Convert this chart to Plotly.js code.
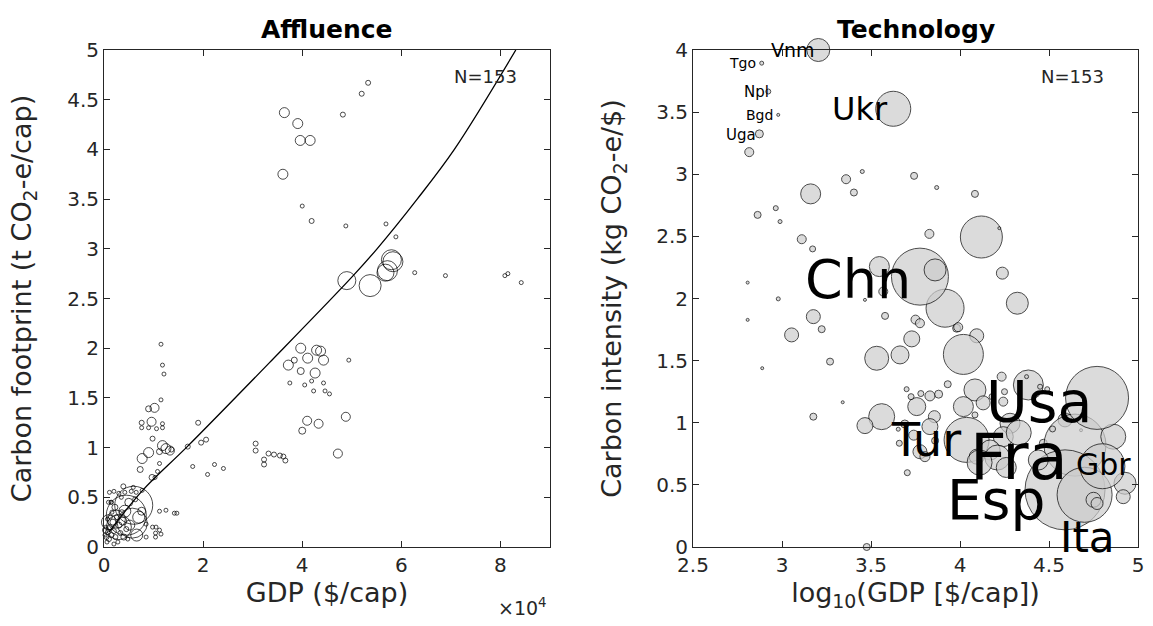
<!DOCTYPE html>
<html><head><meta charset="utf-8">
<script src="https://cdn.plot.ly/plotly-3.0.1.min.js"></script>
<style>html,body{margin:0;padding:0;background:#fff}#chart{width:1153px;height:626px}</style>
</head><body><div id="chart"></div>
<script>
// ---------- Affluence panel (GDP $/cap vs carbon footprint t CO2-e/cap) ----------
const affGdp = [53300,52000,48200,36400,39100,39600,41600,36100,40000,41900,48800,56900,58900,
  58000,57200,58300,56800,49000,53700,62700,68900,80900,81500,84200,
  39700,42900,43700,41100,44300,38400,37200,39700,42600,49400,37500,40500,41900,44300,42300,44600,45500,
  48800,41000,43300,40000,47200,33200,32300,32300,34300,35500,36200,36600,
  7700,9000,7300,9700,11500,11800,12100,11500,10200,9000,9600,7600,7600,9000,10600,11800,11800,9800,
  11800,12500,13300,11200,13600,16900,19000,19600,20600,17900,20900,22300,24100,30600,30600,11200,10800,10300,3900,
  1100,2000,3000,4200,5500,6500,7700,1400,
  6000,4500,5700,3000,7000,11200,12500,14200,14700,8500,9800,10500,8500,10400,11200,11500,10400,
  500,800,1000,1200,1500,1800,2000,2300,2600,3000,3300,3600,400,600,1300,2800,4000,4500,5000,2200,1600,700,3800,4800,200,900,5200,6600,2000,3500,1500,6300,7600,1000,2500,300,4200,5900];
const affFoot = [4.67,4.56,4.35,4.37,4.26,4.09,4.09,3.75,3.43,3.28,3.23,3.25,3.12,
  2.89,2.78,2.87,2.76,2.68,2.63,2.76,2.73,2.73,2.75,2.66,
  2.00,1.98,1.97,1.90,1.88,1.88,1.83,1.77,1.75,1.88,1.65,1.63,1.67,1.65,1.57,1.57,1.54,
  1.31,1.27,1.24,1.17,0.94,0.94,0.88,0.83,0.93,0.92,0.91,0.87,
  0.89,0.95,0.78,0.70,2.04,1.83,1.74,1.48,1.40,1.39,1.26,1.25,1.20,1.20,1.19,1.24,1.20,1.09,
  1.02,0.99,0.97,0.96,0.98,1.01,1.25,1.05,1.08,0.81,0.73,0.83,0.79,1.04,0.97,0.84,0.76,0.70,0.61,
  0.55,0.56,0.54,0.55,0.56,0.55,0.57,0.45,
  0.42,0.32,0.24,0.20,0.30,0.36,0.37,0.34,0.34,0.23,0.20,0.20,0.10,0.14,0.17,0.13,0.10,
  0.10,0.15,0.08,0.20,0.12,0.25,0.16,0.10,0.30,0.22,0.14,0.35,0.20,0.05,0.30,0.05,0.10,0.18,0.45,0.40,0.35,0.28,0.26,0.08,0.12,0.45,0.22,0.12,0.03,0.50,0.45,0.48,0.36,0.25,0.28,0.17,0.36,0.60];
const affPop = [5,5,5,10,10,10,10,10,4,5,4,4,4,
  20,20,20,17,18,22,4,4,4,4,4,
  10,10,10,10,10,6,10,7,10,4,4,4,4,4,4,4,4,
  9,9,9,7,9,5,5,5,5,5,5,5,
  10,10,6,6,4,4,4,4,9,6,9,5,4,4,4,4,4,5,
  10,10,9,6,5,5,5,5,5,4,4,4,4,5,5,4,4,4,5,
  4,4,4,4,4,4,4,4,
  38,40,30,25,12,4,4,4,4,4,4,4,4,4,4,4,4,
  5,5,5,5,5,6,5,5,5,6,5,5,4,4,4,4,6,5,8,6,4,4,8,4,4,4,10,12,4,4,4,5,8,15,18,6,12,4];
// fitted curve
const fitGdp  = [1000,7800,16800,33300,50100,55100,63200,70700,83100];
const fitFoot = [0.15,0.57,1.01,1.85,2.72,3.00,3.50,4.00,5.00];

// ---------- Technology panel (log10 GDP vs carbon intensity kg CO2-e/$) ----------
const techLogGdp = [3.204,2.886,2.923,2.979,2.873,2.816,3.625,3.161,3.36,3.451,3.404,3.742,3.869,4.084,
  2.863,2.965,2.989,3.111,3.172,3.828,4.12,4.221,4.238,4.322,4.094,4.019,3.916,3.981,
  3.775,3.860,3.547,3.569,3.466,3.579,3.176,3.223,3.054,3.75,3.990,2.807,2.979,2.807,3.270,2.889,3.341,3.176,
  3.532,3.663,3.729,3.775,3.56,3.466,3.757,3.725,3.78,3.831,3.88,3.931,3.856,3.831,3.860,3.775,3.803,
  3.653,3.659,3.704,3.476,4.084,4.019,4.084,4.037,4.234,4.384,4.374,4.45,4.49,4.243,4.281,4.243,4.169,4.094,
  4.59,4.68,4.468,4.646,4.861,4.927,4.917,4.59,4.70,4.80,4.77,
  4.13,4.18,4.25,4.33,4.21,4.26,4.11,4.75,4.77,3.70,3.69,3.74,4.44,4.52];
const techInt = [4.00,3.894,3.666,3.478,3.325,3.178,3.527,2.842,2.96,3.022,2.853,2.987,2.893,2.842,
  2.673,2.727,2.619,2.477,2.399,2.52,2.495,2.566,2.204,1.962,1.70,1.55,1.922,1.761,
  2.176,2.230,2.257,2.056,1.989,1.860,1.854,1.753,1.707,1.83,1.769,2.128,1.997,1.828,1.492,1.439,1.165,1.049,
  1.519,1.546,1.675,1.801,1.049,0.977,1.13,1.21,1.235,1.216,1.23,1.31,1.049,0.969,0.856,0.767,0.727,
  0.948,0.835,0.598,0.0,1.264,1.13,1.063,0.862,1.371,1.304,1.371,1.29,1.27,1.17,0.996,0.888,0.781,0.727,
  1.023,0.94,0.835,0.82,0.888,0.513,0.405,0.46,0.42,0.65,1.20,
  1.16,1.21,1.25,0.92,0.72,0.64,0.68,0.38,0.35,1.27,0.99,0.90,0.70,0.95];
const techEmis = [23,4,5,3,8,9,35,20,9,4,7,7,4,7,
  7,5,4,9,6,9,42,3,12,22,14,40,38,8,
  57,22,20,9,3,7,14,7,14,9,9,3,4,3,7,3,3,7,
  24,18,16,9,26,16,18,6,6,10,8,7,12,16,7,14,10,
  4,6,6,7,22,20,6,45,9,30,4,5,5,9,20,20,20,15,
  14,3,8,62,25,22,14,80,55,45,63,
  14,6,6,25,25,20,25,15,12,5,8,10,20,6];
// country labels (text anchored at its right edge)
const labelNames = ['Vnm','Tgo','Npl','Bgd','Uga','Ukr','Chn','Tur','Usa','Fra','Esp','Ita','Gbr'];
const labelX = [3.197,2.865,2.94,2.96,2.865,3.607,3.736,4.017,4.75,4.618,4.49,4.882,4.972];
const labelY = [4.00,3.897,3.66,3.478,3.317,3.527,2.15,0.862,1.167,0.725,0.378,0.08,0.66];
const labelPt = [19,14,15,14,15,32,54,46,57,64,55,42,30];

const nObs = 153;
const panelTitles = ['Affluence','Technology'];

const FONT = 'DejaVu Sans, Liberation Sans, sans-serif';
const INK = '#262626';
const W = 1153, H = 626;

const traces = [
  {x: affGdp, y: affFoot, type: 'scatter', mode: 'markers', xaxis: 'x', yaxis: 'y', cliponaxis: false,
   marker: {symbol: 'circle-open', size: affPop, color: '#000', line: {width: 1, color: '#000'}}, hoverinfo: 'x+y'},
  {x: fitGdp, y: fitFoot, type: 'scatter', mode: 'lines', xaxis: 'x', yaxis: 'y',
   line: {color: '#000', width: 1.3, shape: 'spline'}},
  {x: techLogGdp, y: techInt, type: 'scatter', mode: 'markers', xaxis: 'x2', yaxis: 'y2', cliponaxis: false,
   marker: {symbol: 'circle', size: techEmis, color: '#cccccc', line: {width: 1, color: '#000'}}}
];

function axisBase(extra) {
  return Object.assign({
    showline: true, mirror: 'ticks', linecolor: INK, linewidth: 1,
    ticks: 'inside', ticklen: 6, tickcolor: INK, tickwidth: 1,
    showgrid: false, zeroline: false, fixedrange: true,
    tickfont: {family: FONT, size: 20, color: INK}
  }, extra);
}

const annotations = [];
labelNames.forEach((n, i) => annotations.push({
  xref: 'x2', yref: 'y2', x: labelX[i], y: labelY[i], text: n, showarrow: false,
  xanchor: 'right', yanchor: 'middle', font: {family: FONT, size: labelPt[i], color: '#000'}
}));
const px = v => v / W, py = v => 1 - v / H;
const TFONT = {family: FONT, size: 27, color: INK};
annotations.push(
  {xref: 'paper', yref: 'paper', x: px(327), y: py(30), text: '<b>' + panelTitles[0] + '</b>', showarrow: false,
   xanchor: 'center', yanchor: 'middle', font: {family: FONT, size: 25, color: '#000'}},
  {xref: 'paper', yref: 'paper', x: px(916), y: py(30), text: '<b>' + panelTitles[1] + '</b>', showarrow: false,
   xanchor: 'center', yanchor: 'middle', font: {family: FONT, size: 25, color: '#000'}},
  {xref: 'paper', yref: 'paper', x: px(485), y: py(76), text: 'N=' + nObs, showarrow: false,
   xanchor: 'center', yanchor: 'middle', font: {family: FONT, size: 18, color: INK}},
  {xref: 'paper', yref: 'paper', x: px(1072), y: py(76), text: 'N=' + nObs, showarrow: false,
   xanchor: 'center', yanchor: 'middle', font: {family: FONT, size: 18, color: INK}},
  {xref: 'paper', yref: 'paper', x: px(549), y: py(607), text: '\u00d710<sup>4</sup>', showarrow: false,
   xanchor: 'right', yanchor: 'middle', font: {family: FONT, size: 19, color: INK}}
);

const layout = {
  width: W, height: H, margin: {l: 0, r: 0, t: 0, b: 0},
  paper_bgcolor: '#fff', plot_bgcolor: '#fff', showlegend: false,
  font: {family: FONT, color: INK},
  xaxis: axisBase({domain: [104/W, 550/W], range: [0, 90000], anchor: 'y',
    tickvals: [0, 20000, 40000, 60000, 80000], ticktext: ['0','2','4','6','8'],
    title: {text: 'GDP ($/cap)', font: TFONT, standoff: 3}}),
  yaxis: axisBase({domain: [(H-547)/H, (H-50)/H], range: [0, 5], dtick: 0.5, anchor: 'x',
    title: {text: 'Carbon footprint (t CO<sub>2</sub>-e/cap)', font: TFONT, standoff: 27}}),
  xaxis2: axisBase({domain: [693/W, 1138/W], range: [2.5, 5], dtick: 0.5, anchor: 'y2',
    title: {text: 'log<sub>10</sub>(GDP [$/cap])', font: TFONT, standoff: 3}}),
  yaxis2: axisBase({domain: [(H-547)/H, (H-50)/H], range: [0, 4], dtick: 0.5, anchor: 'x2',
    title: {text: 'Carbon intensity (kg CO<sub>2</sub>-e/$)', font: TFONT, standoff: 26}}),
  annotations: annotations
};

Plotly.newPlot('chart', traces, layout, {staticPlot: true, displayModeBar: false});
</script>
</body></html>
